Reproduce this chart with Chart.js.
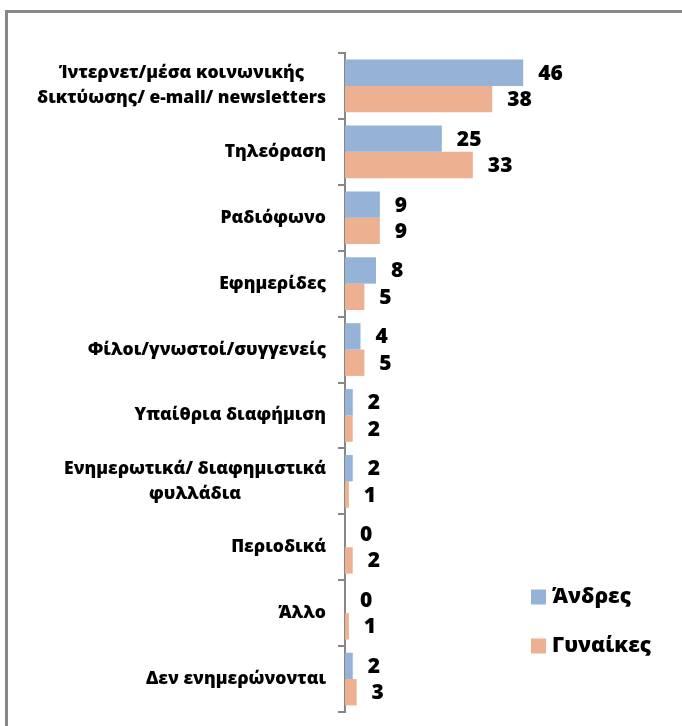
<!DOCTYPE html>
<html>
<head>
<meta charset="utf-8">
<script src="https://cdn.jsdelivr.net/npm/chart.js@4/dist/chart.umd.min.js"></script>
<style>
  html, body { margin: 0; padding: 0; background: #ffffff; overflow: hidden; }
  #wrap { position: relative; width: 682px; height: 726px; }
  #frame { position: absolute; left: 5px; top: 10px; width: 800px; height: 800px;
           border: 3px solid #878787; box-sizing: border-box; }
  #c { position: absolute; left: 0; top: 0; }
</style>
</head>
<body>
<div id="wrap">
  <div id="frame"></div>
  <canvas id="c" width="682" height="726"></canvas>
</div>
<script>
// ---- data ----
const categories = [
  ["Ίντερνετ/μέσα κοινωνικής", "δικτύωσης/ e-mail/ newsletters"],
  "Τηλεόραση",
  "Ραδιόφωνο",
  "Εφημερίδες",
  "Φίλοι/γνωστοί/συγγενείς",
  "Υπαίθρια διαφήμιση",
  ["Ενημερωτικά/ διαφημιστικά", "φυλλάδια"],
  "Περιοδικά",
  "Άλλο",
  "Δεν ενημερώνονται"
];
const seriesNames = ["Άνδρες", "Γυναίκες"];
const men = [46, 25, 9, 8, 4, 2, 2, 0, 0, 2];
const women = [38, 33, 9, 5, 5, 2, 1, 2, 1, 3];

// ---- styles ----
const FONT = '"Open Sans", "Noto Sans", "DejaVu Sans", sans-serif';
const colors = ["#94B3D6", "#EDB192"];

const categoryLabels = {
  id: 'categoryLabels',
  afterDraw(chart) {
    const ctx = chart.ctx;
    const ys = chart.scales.y;
    ctx.save();
    ctx.font = '800 17.5px ' + FONT;
    ctx.fillStyle = '#000';
    ctx.textAlign = 'center';
    ctx.textBaseline = 'middle';
    const rightX = ys.right - 19;
    const lineH = 25;
    chart.data.labels.forEach((lab, i) => {
      const lines = Array.isArray(lab) ? lab : [lab];
      const w = Math.max(...lines.map(l => ctx.measureText(l).width));
      const cx = rightX - w / 2;
      const cy = ys.getPixelForValue(i);
      const y0 = cy - (lines.length - 1) * lineH / 2;
      lines.forEach((l, k) => ctx.fillText(l, cx, y0 + k * lineH));
    });
    ctx.restore();
  }
};

const valueLabels = {
  id: 'valueLabels',
  afterDatasetsDraw(chart) {
    const ctx = chart.ctx;
    ctx.save();
    ctx.font = '800 21px ' + FONT;
    ctx.fillStyle = '#000';
    ctx.textAlign = 'left';
    ctx.textBaseline = 'middle';
    chart.data.datasets.forEach((ds, di) => {
      const meta = chart.getDatasetMeta(di);
      meta.data.forEach((el, i) => {
        ctx.fillText(String(ds.data[i]), el.x + 15, el.y + 1);
      });
    });
    ctx.restore();
  }
};

const sideLegend = {
  id: 'sideLegend',
  afterDraw(chart) {
    const ctx = chart.ctx;
    ctx.save();
    ctx.font = '800 21px ' + FONT;
    ctx.textAlign = 'left';
    ctx.textBaseline = 'middle';
    const x = 531, y0 = 597, gap = 49, box = 15;
    chart.data.datasets.forEach((ds, i) => {
      const y = y0 + i * gap;
      ctx.fillStyle = ds.backgroundColor;
      ctx.fillRect(x, y - box / 2, box, box);
      ctx.fillStyle = '#000';
      ctx.fillText(ds.label, x + 21, y);
    });
    ctx.restore();
  }
};

new Chart(document.getElementById('c'), {
  type: 'bar',
  data: {
    labels: categories,
    datasets: [
      { label: seriesNames[0], data: men, backgroundColor: colors[0],
        barPercentage: 1.0, categoryPercentage: 0.8 },
      { label: seriesNames[1], data: women, backgroundColor: colors[1],
        barPercentage: 1.0, categoryPercentage: 0.8 }
    ]
  },
  options: {
    indexAxis: 'y',
    responsive: false,
    animation: false,
    layout: { padding: { top: 53, bottom: 14, left: 0, right: 0 } },
    plugins: { legend: { display: false }, tooltip: { enabled: false } },
    scales: {
      y: {
        type: 'category',
        ticks: { display: false },
        grid: { drawOnChartArea: false, drawTicks: true, tickLength: 7,
                color: '#878787', lineWidth: 2, offset: true },
        border: { display: true, color: '#878787', width: 2 },
        afterFit(s) { s.width = 345; }
      },
      x: {
        display: false,
        min: 0,
        max: 87
      }
    }
  },
  plugins: [categoryLabels, valueLabels, sideLegend]
});
</script>
</body>
</html>
